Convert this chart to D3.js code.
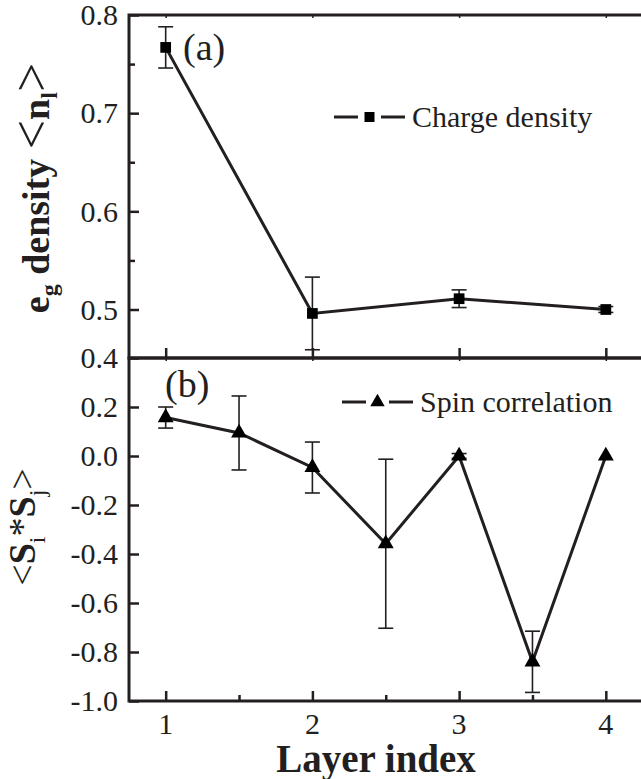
<!DOCTYPE html>
<html>
<head>
<meta charset="utf-8">
<script src="https://cdnjs.cloudflare.com/ajax/libs/d3/7.8.5/d3.min.js"></script>
<style>
  body { margin: 0; background: #fff; }
  text { font-family: "Liberation Serif", "Times New Roman", serif; fill: #231f20; }
</style>
</head>
<body>
<svg class="chart"></svg>
<script>
// charge density per layer (panel a)
const layers = [1, 2, 3, 4];
const charge = [0.767, 0.496, 0.511, 0.500];
const chargeErr = [0.021, 0.037, 0.009, 0.003];

// spin correlation between neighbouring layers (panel b)
const spinX = [1, 1.5, 2, 2.5, 3, 3.5, 4];
const spin = [0.157, 0.094, -0.047, -0.358, 0.0, -0.84, 0.0];
const spinErr = [0.043, 0.151, 0.104, 0.345, 0.01, 0.125, 0];

const xTicks = [1, 2, 3, 4];
const xMinor = [1.5, 2.5, 3.5];
const topTicks = [0.8, 0.7, 0.6, 0.5];
const topMinor = [0.75, 0.65, 0.55];
const botTicks = [0.4, 0.2, 0.0, -0.2, -0.4, -0.6, -0.8, -1.0];

const width = 641, height = 779,
  left = 129, right = 642.5,
  ink = "#231f20";

const chart = d3.select(".chart")
  .attr("width", width)
  .attr("height", height);

const x = d3.scaleLinear().domain([0.75, 4.25]).range([left, right]);
const yA = d3.scaleLinear().domain([0.4506, 0.8]).range([358, 15]);
const yB = d3.scaleLinear().domain([-1.0, 0.4]).range([701, 358]);
const fmt = d => d.toFixed(1);

function axes(y, yTicks, yMinor, showXLabels, xMinorTicks) {
  const [y0, y1] = y.range();
  // left
  chart.append("g")
    .attr("transform", `translate(${left},0)`)
    .call(d3.axisRight(y).tickValues(yTicks).tickFormat("").tickSizeInner(10).tickSizeOuter(0))
    .call(g => g.selectAll(".tick line").attr("stroke", ink).attr("stroke-width", 2.5))
    .call(g => g.select(".domain").remove());
  if (yMinor.length) {
    chart.append("g")
      .attr("transform", `translate(${left},0)`)
      .call(d3.axisRight(y).tickValues(yMinor).tickFormat("").tickSizeInner(6).tickSizeOuter(0))
      .call(g => g.selectAll(".tick line").attr("stroke", ink).attr("stroke-width", 2.5))
      .call(g => g.select(".domain").remove());
  }
  chart.append("g")
    .attr("transform", `translate(${left},0)`)
    .selectAll("text")
    .data(yTicks)
    .enter().append("text")
    .attr("x", -11)
    .attr("y", d => y(d))
    .attr("dy", "0.34em")
    .attr("text-anchor", "end")
    .attr("font-size", 30)
    .text(fmt);
  // bottom
  chart.append("g")
    .attr("transform", `translate(0,${y0})`)
    .call(d3.axisTop(x).tickValues(xTicks).tickFormat("").tickSizeInner(10).tickSizeOuter(0))
    .call(g => g.selectAll(".tick line").attr("stroke", ink).attr("stroke-width", 2.5))
    .call(g => g.select(".domain").remove());
  if (xMinorTicks) {
    chart.append("g")
      .attr("transform", `translate(0,${y0})`)
      .call(d3.axisTop(x).tickValues(xMinor).tickFormat("").tickSizeInner(6).tickSizeOuter(0))
      .call(g => g.selectAll(".tick line").attr("stroke", ink).attr("stroke-width", 2.5))
      .call(g => g.select(".domain").remove());
  }
  if (showXLabels) {
    chart.append("g")
      .selectAll("text")
      .data(xTicks)
      .enter().append("text")
      .attr("x", d => x(d))
      .attr("y", y0 + 33)
      .attr("text-anchor", "middle")
      .attr("font-size", 30)
      .text(d => d);
  }
  // top ticks, small ones pointing down
  chart.append("g")
    .attr("transform", `translate(0,${y1})`)
    .call(d3.axisBottom(x).tickValues(xTicks).tickFormat("").tickSizeInner(3).tickSizeOuter(0))
    .call(g => g.selectAll(".tick line").attr("stroke", ink).attr("stroke-width", 1.5))
    .call(g => g.select(".domain").remove());
  // frame
  chart.append("rect")
    .attr("x", left).attr("y", y1)
    .attr("width", right - left).attr("height", y0 - y1)
    .attr("fill", "none")
    .attr("stroke", ink)
    .attr("stroke-width", 3);
}

axes(yA, topTicks, topMinor, false, false);
axes(yB, botTicks, [], true, true);

function series(xs, ys, es, y, symbol, size) {
  const pts = xs.map((d, i) => ({ x: d, y: ys[i], e: es[i] }));
  const g = chart.append("g");
  g.append("path")
    .datum(pts)
    .attr("fill", "none")
    .attr("stroke", ink)
    .attr("stroke-width", 3)
    .attr("d", d3.line().x(d => x(d.x)).y(d => y(d.y)));
  const bar = g.selectAll(".err")
    .data(pts.filter(d => d.e > 0))
    .enter().append("g")
    .attr("class", "err")
    .attr("stroke", ink)
    .attr("stroke-width", 1.6);
  bar.append("line")
    .attr("x1", d => x(d.x)).attr("x2", d => x(d.x))
    .attr("y1", d => y(d.y + d.e)).attr("y2", d => y(d.y - d.e));
  bar.append("line")
    .attr("x1", d => x(d.x) - 7.5).attr("x2", d => x(d.x) + 7.5)
    .attr("y1", d => y(d.y + d.e)).attr("y2", d => y(d.y + d.e));
  bar.append("line")
    .attr("x1", d => x(d.x) - 7.5).attr("x2", d => x(d.x) + 7.5)
    .attr("y1", d => y(d.y - d.e)).attr("y2", d => y(d.y - d.e));
  g.selectAll(".pt")
    .data(pts)
    .enter().append("path")
    .attr("class", "pt")
    .attr("transform", d => `translate(${x(d.x)},${y(d.y)})`)
    .attr("d", d3.symbol().type(symbol).size(size))
    .attr("fill", "#000");
}

series(layers, charge, chargeErr, yA, d3.symbolSquare, 115);
series(spinX, spin, spinErr, yB, d3.symbolTriangle, 110);

// legends
function legend(lx, ly, tx, ty, symbol, size, label) {
  const g = chart.append("g");
  g.append("line").attr("x1", lx).attr("x2", lx + 24).attr("y1", ly).attr("y2", ly)
    .attr("stroke", ink).attr("stroke-width", 3);
  g.append("line").attr("x1", lx + 47).attr("x2", lx + 71).attr("y1", ly).attr("y2", ly)
    .attr("stroke", ink).attr("stroke-width", 3);
  g.append("path")
    .attr("transform", `translate(${lx + 35.5},${ly})`)
    .attr("d", d3.symbol().type(symbol).size(size))
    .attr("fill", "#000");
  g.append("text").attr("x", tx).attr("y", ty).attr("font-size", 30).text(label);
}
legend(334, 117, 412, 127, d3.symbolSquare, 100, "Charge density");
legend(342, 402, 420, 412, d3.symbolTriangle, 90, "Spin correlation");

chart.append("text").attr("x", 183).attr("y", 60).attr("font-size", 38).text("(a)");
chart.append("text").attr("x", 165).attr("y", 397).attr("font-size", 38).text("(b)");

// axis titles
chart.append("text")
  .attr("x", 376).attr("y", 772)
  .attr("text-anchor", "middle")
  .attr("font-size", 39)
  .attr("font-weight", "bold")
  .text("Layer index");

const tA = chart.append("text")
  .attr("transform", "translate(49,188) rotate(-90)")
  .attr("text-anchor", "middle")
  .attr("font-size", 38)
  .attr("font-weight", "bold");
tA.append("tspan").text("e");
tA.append("tspan").attr("dy", 8).attr("font-size", 24).text("g");
tA.append("tspan").attr("dy", -8).text(" density ");
tA.append("tspan").attr("font-weight", "normal").attr("font-size", 52).text("<");
tA.append("tspan").text("n");
tA.append("tspan").attr("dy", 8).attr("font-size", 24).text("l");
tA.append("tspan").attr("dy", -8).attr("font-weight", "normal").attr("font-size", 52).text(">");

const tB = chart.append("text")
  .attr("transform", "translate(35,527) rotate(-90)")
  .attr("text-anchor", "middle")
  .attr("font-size", 38);
tB.append("tspan").text("<");
tB.append("tspan").attr("font-weight", "bold").text("S");
tB.append("tspan").attr("dy", 10).attr("font-size", 24).text("i");
tB.append("tspan").attr("dy", -10).text("*");
tB.append("tspan").attr("font-weight", "bold").text("S");
tB.append("tspan").attr("dy", 10).attr("font-size", 24).text("j");
tB.append("tspan").attr("dy", -10).text(">");
</script>
</body>
</html>
